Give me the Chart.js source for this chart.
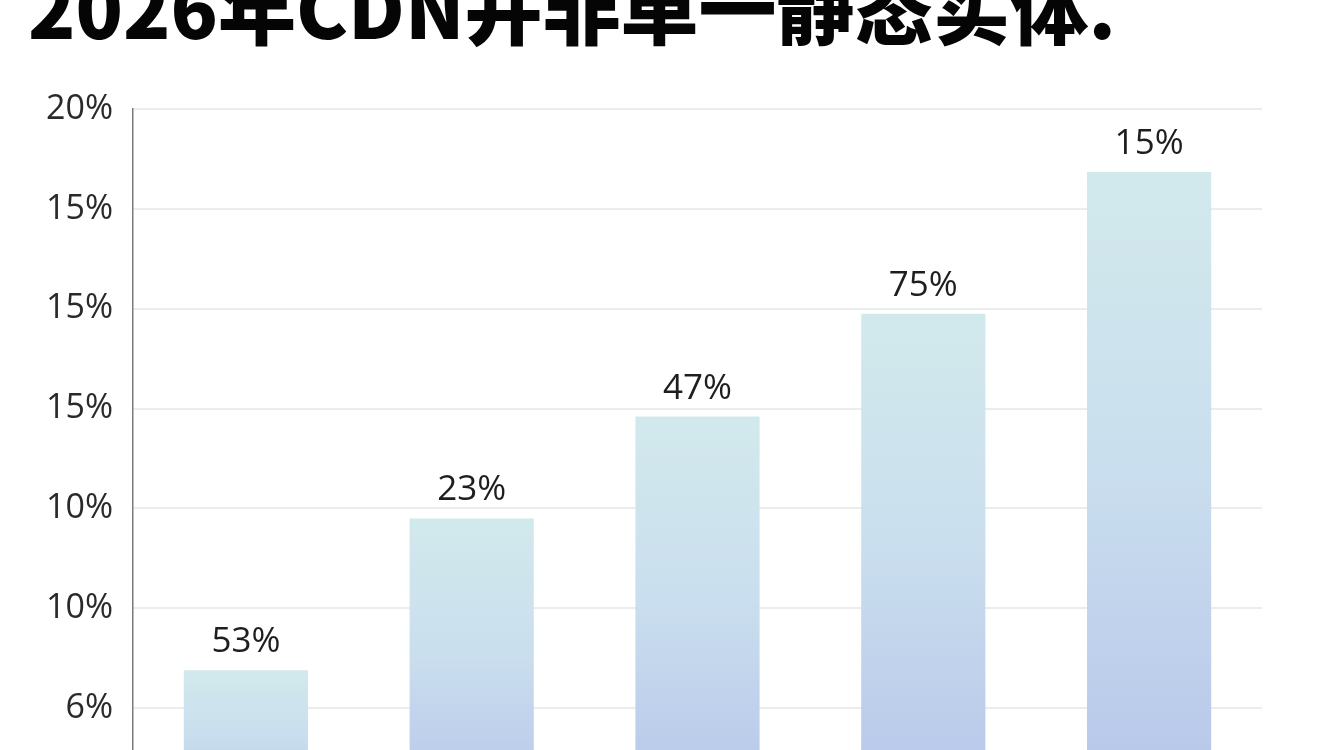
<!DOCTYPE html>
<html lang="zh-CN">
<head>
<meta charset="utf-8">
<title>2026年CDN并非单一静态实体.</title>
<script src="https://cdn.jsdelivr.net/npm/chart.js@4.4.1/dist/chart.umd.min.js"></script>
<style>
    html, body {
        margin: 0;
        padding: 0;
        width: 1344px;
        height: 750px;
        overflow: hidden;
        background: #ffffff;
    }
    #titulo {
        position: absolute;
        left: 28px;
        top: -34px;
        margin: 0;
        font-family: "Noto Sans CJK SC", sans-serif;
        font-weight: 900;
        font-size: 78px;
        line-height: 1;
        color: #050505;
        white-space: nowrap;
    }
    #wrap {
        position: absolute;
        left: 0;
        top: 0;
        width: 1344px;
        height: 860px;
    }
</style>
</head>
<body>
<h1 id="titulo">2026年CDN并非单一静态实体.</h1>
<div id="wrap"><canvas id="grafico"></canvas></div>

<script>
// Dados (altura das barras em unidades de grade)
const categorias = ['A', 'B', 'C', 'D', 'E'];
const alturas = [1.38, 2.90, 3.92, 4.95, 6.37];
const rotulosBarras = ['53%', '23%', '47%', '75%', '15%'];
// rótulos do eixo y, da linha 0 até a linha 7
const rotulosEixo = ['', '6%', '10%', '10%', '15%', '15%', '15%', '20%'];

// Gradiente vertical por barra (ciano em cima, azul lavanda embaixo)
function corBarra(context) {
    const chart = context.chart;
    if (!chart.chartArea || context.raw === undefined) return '#cfe6ea';
    const y = chart.scales.y;
    const topo = y.getPixelForValue(context.raw);
    const base = y.getPixelForValue(0);
    const g = chart.ctx.createLinearGradient(0, topo, 0, base);
    g.addColorStop(0, '#d2e9ec');
    g.addColorStop(0.45, '#cadfee');
    g.addColorStop(1, '#b6c5ea');
    return g;
}

// Plugin simples para escrever o valor acima de cada barra
const rotuloPlugin = {
    id: 'rotuloBarras',
    afterDatasetsDraw(chart) {
        const ctx = chart.ctx;
        const meta = chart.getDatasetMeta(0);
        ctx.save();
        ctx.font = '35px "Open Sans", sans-serif';
        ctx.fillStyle = '#1e1e1e';
        ctx.textAlign = 'center';
        ctx.textBaseline = 'alphabetic';
        meta.data.forEach((bar, i) => {
            ctx.fillText(rotulosBarras[i], bar.x, bar.y - 18);
        });
        ctx.restore();
    }
};

new Chart(document.getElementById('grafico').getContext('2d'), {
    type: 'bar',
    data: {
        labels: categorias,
        datasets: [{
            data: alturas,
            backgroundColor: corBarra,
            borderWidth: 0,
            barPercentage: 0.55,
            categoryPercentage: 1
        }]
    },
    options: {
        responsive: true,
        maintainAspectRatio: false,
        animation: false,
        layout: {
            padding: { top: 109, bottom: 52, left: 0, right: 82 }
        },
        plugins: {
            legend: { display: false },
            tooltip: { enabled: false }
        },
        scales: {
            x: {
                display: false
            },
            y: {
                min: 0,
                max: 7,
                afterFit: function(scale) {
                    scale.width = 133;
                },
                border: {
                    display: true,
                    color: '#7a7a7a',
                    width: 1.5
                },
                grid: {
                    color: '#ececec',
                    lineWidth: 2,
                    drawTicks: false
                },
                ticks: {
                    stepSize: 1,
                    padding: 20,
                    color: '#2a2a2a',
                    font: { family: '"Open Sans", sans-serif', size: 34 },
                    callback: function(value) {
                        return rotulosEixo[value] || '';
                    }
                }
            }
        }
    },
    plugins: [rotuloPlugin]
});
</script>
</body>
</html>
